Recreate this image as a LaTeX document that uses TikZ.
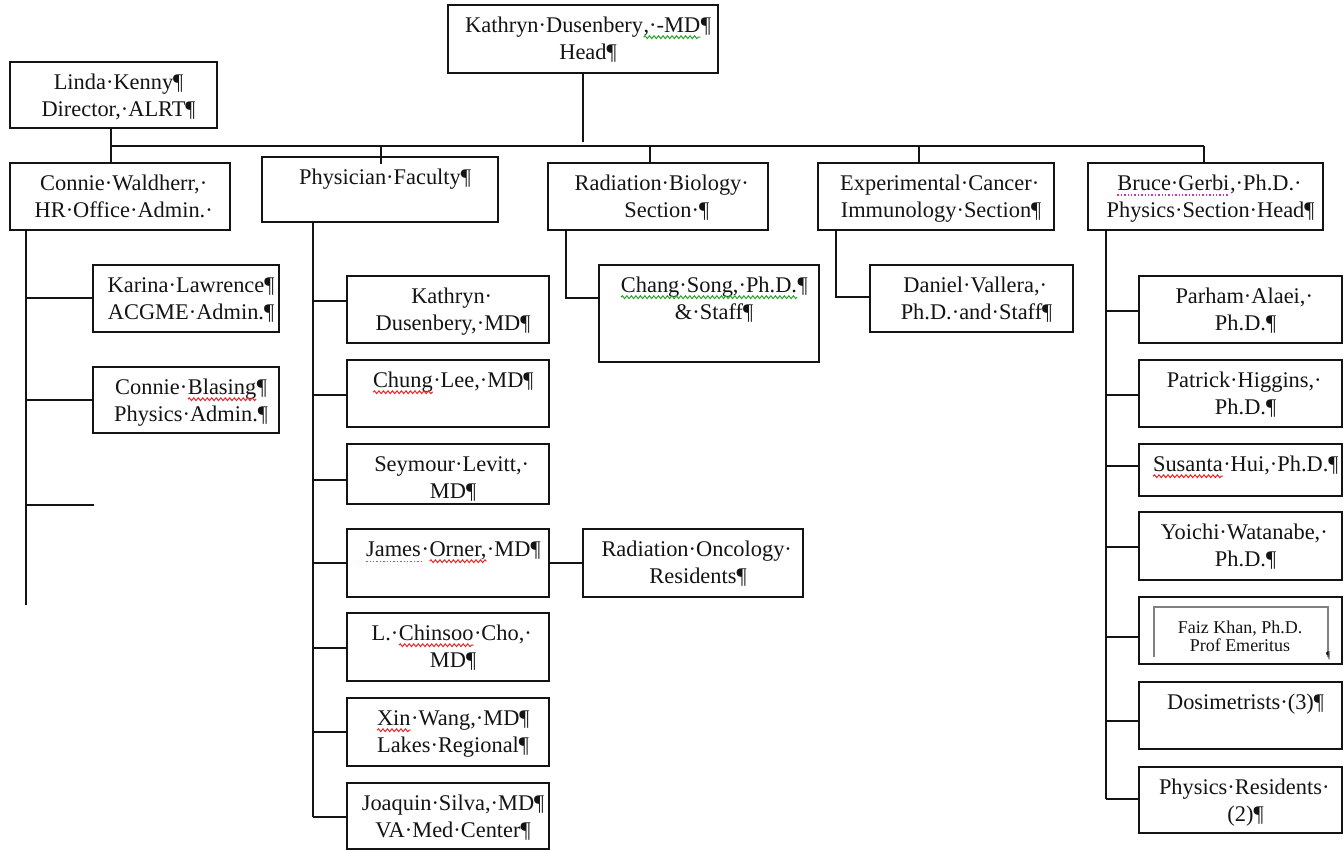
\documentclass[tikz,border=0pt]{standalone}
\usepackage{fontspec}
\setmainfont{Liberation Serif}
\usetikzlibrary{decorations.pathmorphing}
\definecolor{ink}{RGB}{20,20,20}
\definecolor{sqred}{RGB}{235,40,40}
\definecolor{sqgreen}{RGB}{40,165,40}
\definecolor{sqpur}{RGB}{205,50,205}
\definecolor{framegray}{RGB}{128,128,128}
\newcommand\squig[2]{\tikz[baseline=(sqw.base)]{\node[inner sep=0pt,outer sep=0pt] (sqw) {#2};
  \draw[#1, line width=1pt, decorate, decoration={snake, amplitude=1.4pt, segment length=4.5pt}]
    ([yshift=-4.5pt]sqw.base west) -- ([yshift=-4.5pt]sqw.base east);}}
\newcommand\uRed[1]{\squig{sqred}{#1}}
\newcommand\uGreen[1]{\squig{sqgreen}{#1}}
\newcommand\uPurp[1]{\tikz[baseline=(sqw.base)]{\node[inner sep=0pt,outer sep=0pt] (sqw) {#1};
  \draw[sqpur, line width=1.4pt, dash pattern=on 1.4pt off 2pt]
    ([yshift=-4.5pt]sqw.base west) -- ([yshift=-4.5pt]sqw.base east);}}
\newcommand{\pil}{\rlap{¶}}
\tikzset{
  box/.style={draw=ink, line width=2pt, inner sep=0pt, outer sep=0pt, anchor=north west},
  txt/.style={inner sep=0pt, anchor=north, align=center, text=ink,
              font=\fontsize{22.4}{26.5}\selectfont},
  smalltxt/.style={inner sep=0pt, anchor=north, align=center, text=ink,
              font=\fontsize{18}{18}\selectfont},
  conn/.style={draw=ink, line width=2pt},
}
\newcommand\orgbox[6]{%
  \node[box, minimum width={#4-#2}, minimum height={#5-#3}] (#1) at (#2,#3) {};
  \node[txt] (#1-t) at ({(#2+#4)/2},{#3+7.5}) {\rule{0pt}{20pt}#6};
}
\begin{document}
\begin{tikzpicture}[x=1pt,y=-1pt]
\useasboundingbox (0,0) rectangle (1344,850);
\fill[white] (0,0) rectangle (1344,850);

% top level
\orgbox{head}{448}{5}{718}{73}{Kathryn·Dusenbery\uGreen{,·-MD}\pil\\Head\pil}
\orgbox{linda}{10}{62}{217}{128}{Linda·Kenny\pil\\Director,·ALRT\pil}

% second level
\orgbox{connieW}{10}{163}{230}{230}{Connie·Waldherr,\rlap{·}\\HR·Office·Admin.\rlap{·}}
\orgbox{phys}{262}{157}{498}{222}{Physician·Faculty\pil}
\orgbox{radbio}{548}{163}{768}{230}{Radiation·Biology\rlap{·}\\Section\rlap{·¶}}
\orgbox{exp}{818}{163}{1054}{230}{Experimental·Cancer\rlap{·}\\Immunology·Section\pil}
\orgbox{bruce}{1088}{163}{1323}{230}{\uPurp{Bruce·Gerbi},·Ph.D.\rlap{·}\\Physics·Section·Head\pil}

% admin staff
\orgbox{karina}{93}{265}{279}{332}{Karina·Lawrence\pil\\ACGME·Admin.\pil}
\orgbox{blasing}{93}{367}{279}{433}{Connie·\uRed{Blasing}\pil\\Physics·Admin.\pil}

% physicians
\orgbox{kd}{347}{276}{549}{343}{Kathryn\rlap{·}\\Dusenbery,·MD\pil}
\orgbox{lee}{347}{360}{549}{427}{\uRed{Chung}·Lee,·MD\pil}
\orgbox{levitt}{347}{444}{549}{504}{Seymour·Levitt,\rlap{·}\\MD\pil}
\orgbox{orner}{347}{529}{549}{597}{\uPurp{James}·\uRed{Orner,}·MD\pil}
\orgbox{cho}{347}{613}{549}{681}{L.·\uRed{Chinsoo}·Cho,\rlap{·}\\MD\pil}
\orgbox{wang}{347}{698}{549}{766}{\uRed{Xin}·Wang,·MD\pil\\Lakes·Regional\pil}
\orgbox{silva}{347}{783}{549}{849}{Joaquin·Silva,·MD\pil\\VA·Med·Center\pil}
\orgbox{resid}{583}{529}{803}{597}{Radiation·Oncology\rlap{·}\\Residents\pil}

% sections
\orgbox{song}{599}{265}{819}{362}{\uGreen{Chang·Song,·Ph.D.}\pil\\\&·Staff\pil}
\orgbox{vallera}{870}{265}{1073}{332}{Daniel·Vallera,\rlap{·}\\Ph.D.·and·Staff\pil}

% physics
\orgbox{alaei}{1139}{276}{1342}{343}{Parham·Alaei,\rlap{·}\\Ph.D.\pil}
\orgbox{higgins}{1139}{360}{1342}{427}{Patrick·Higgins,\rlap{·}\\Ph.D.\pil}
\orgbox{hui}{1139}{444}{1342}{496}{\uRed{Susanta}·Hui,·Ph.D.\pil}
\orgbox{watanabe}{1139}{512}{1342}{580}{Yoichi·Watanabe,\rlap{·}\\Ph.D.\pil}
\node[box, minimum width=203, minimum height=67] (khan) at (1139,597) {};
\draw[framegray, line width=2.5pt] (1154,657) -- (1154,607) -- (1328,607) -- (1328,657);
\node[smalltxt] (khan-t) at (1240,620) {\rule{0pt}{13.5pt}Faiz Khan, Ph.D.\\Prof Emeritus};
\node[inner sep=0pt, anchor=base west, text=ink, font=\fontsize{10}{10}\selectfont] (khan-p) at (1326,658) {¶};
\orgbox{dosim}{1139}{682}{1342}{749}{Dosimetrists·(3)\pil}
\orgbox{physres}{1139}{767}{1342}{833}{Physics·Residents\rlap{·}\\(2)\pil}

% ---- connectors ----
\coordinate (busL) at (111,146);
\coordinate (busR) at (1204,146);
\draw[conn] (head.south) -- ++(0,69);
\draw[conn] (busL) -- (busR);
\draw[conn] (linda.south -| busL) -- (connieW.north -| busL);
\draw[conn] ([xshift=1pt]phys.north |- busL) -- ([xshift=1pt,yshift=-7pt]phys.north);
\draw[conn] ([xshift=-8pt]radbio.north |- busL) -- ([xshift=-8pt]radbio.north);
\draw[conn] ([xshift=-17pt]exp.north |- busL) -- ([xshift=-17pt]exp.north);
\draw[conn] (busR) -- (busR |- bruce.north);

% admin subtree
\coordinate (cv) at (26,230);
\coordinate (cvEnd) at (26,605);
\coordinate (cvFree) at (94,505);
\draw[conn] (cv) -- (cvEnd);
\draw[conn] (cv |- karina.west) -- (karina.west);
\draw[conn] (cv |- blasing.west) -- (blasing.west);
\draw[conn] (cv |- cvFree) -- (cvFree);

% physician subtree
\coordinate (pv) at (313,222);
\draw[conn] (pv) -- (313,817);
\draw[conn] (pv |- 0,301) -- (kd.west |- 0,301);
\draw[conn] (pv |- 0,395) -- (lee.west |- 0,395);
\draw[conn] (pv |- 0,480) -- (levitt.west |- 0,480);
\draw[conn] (pv |- 0,563) -- (orner.west |- 0,563);
\draw[conn] (pv |- 0,648) -- (cho.west |- 0,648);
\draw[conn] (pv |- 0,732) -- (wang.west |- 0,732);
\draw[conn] (pv |- 0,817) -- (silva.west |- 0,817);
\draw[conn] (orner.east |- 0,563) -- (resid.west |- 0,563);

% radiation biology / immunology
\draw[conn] (radbio.south west) ++(18,0) |- (song.west |- 0,298);
\draw[conn] (exp.south west) ++(18,0) |- (vallera.west |- 0,297);

% physics subtree
\coordinate (bv) at (1106,230);
\draw[conn] (bv) -- (1106,799);
\draw[conn] (bv |- 0,311) -- (alaei.west |- 0,311);
\draw[conn] (bv |- 0,395) -- (higgins.west |- 0,395);
\draw[conn] (bv |- 0,466) -- (hui.west |- 0,466);
\draw[conn] (bv |- 0,547) -- (watanabe.west |- 0,547);
\draw[conn] (bv |- 0,637) -- (khan.west |- 0,637);
\draw[conn] (bv |- 0,721) -- (dosim.west |- 0,721);
\draw[conn] (bv |- 0,799) -- (physres.west |- 0,799);
\end{tikzpicture}
\end{document}
